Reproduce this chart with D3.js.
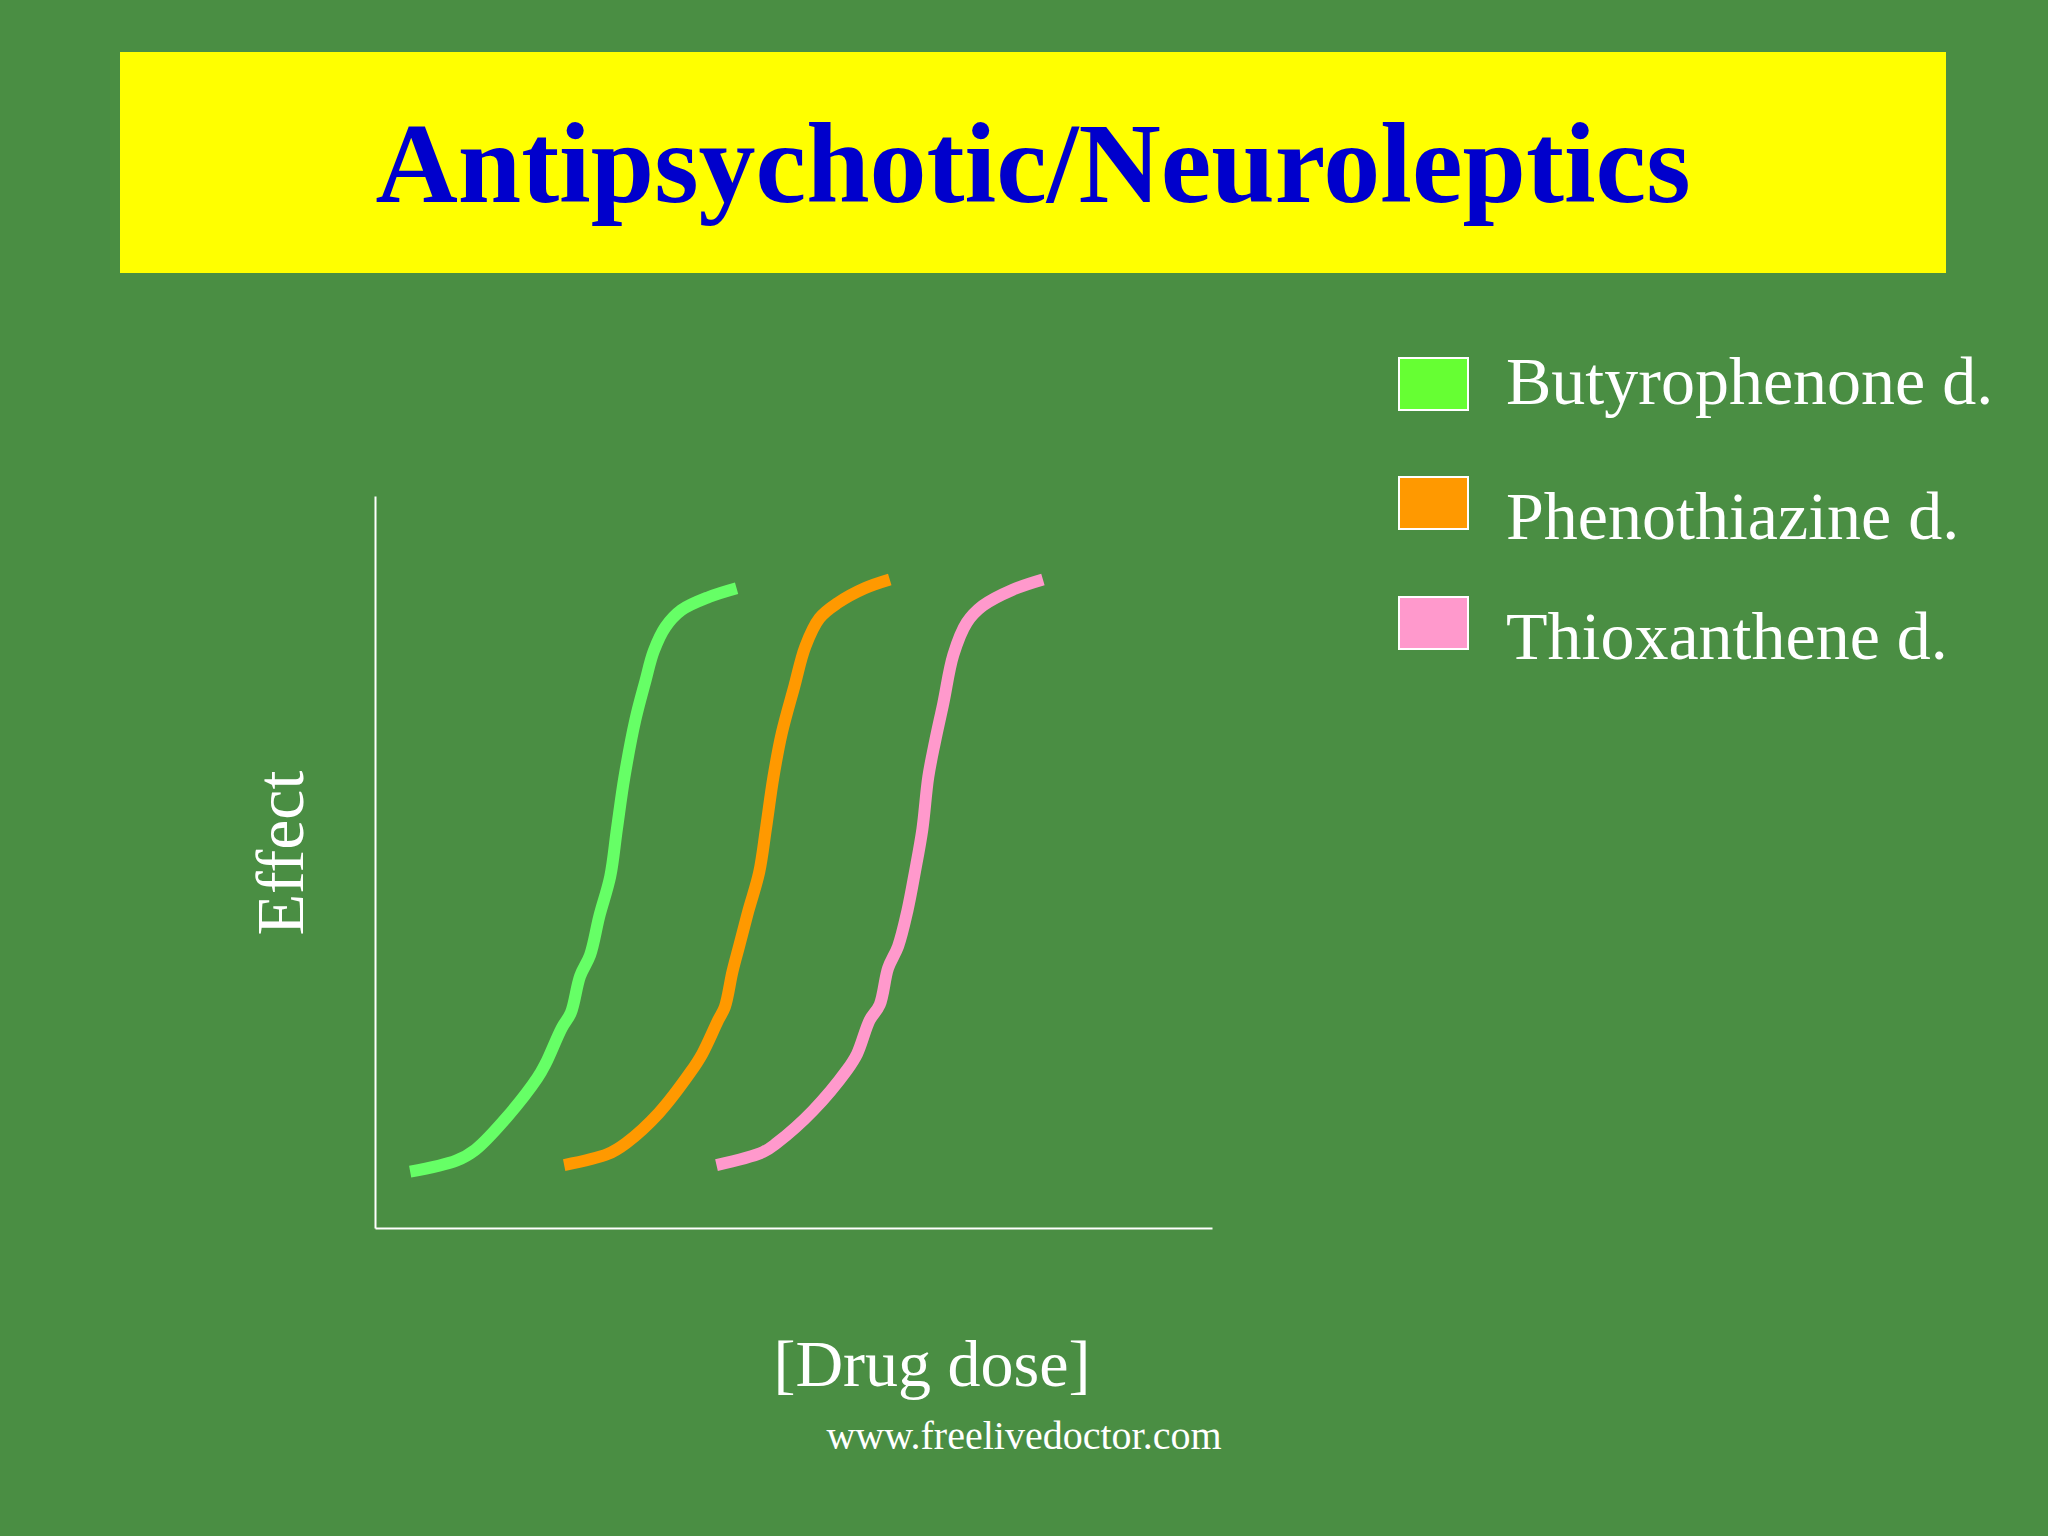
<!DOCTYPE html>
<html>
<head>
<meta charset="utf-8">
<script src="https://cdn.jsdelivr.net/npm/d3@7"></script>
<style>
  body { margin: 0; background: #4a8e43; }
  svg { display: block; }
</style>
</head>
<body>
<div id="chart"></div>
<script>
////////////////////////////////////////////////////////////////////////////////
// Data (dose and effect on a 0-100 scale).
var series_names = ['Butyrophenone d.', 'Phenothiazine d.', 'Thioxanthene d.'];
var legend_colors = ['#66ff33', '#ff9900', '#ff99cc'];
var line_colors = ['#66ff66', '#ff9900', '#ff99cc'];

var butyrophenone = [
	[4.2, 7.7], [9.7, 9.2], [12.0, 10.7], [15.8, 15.2], [19.4, 20.5], [20.4, 22.5],
	[22.3, 27.3], [23.4, 29.4], [24.5, 34.4], [25.7, 37.3], [26.8, 42.6], [28.1, 48.0],
	[28.9, 54.5], [29.8, 61.6], [31.1, 69.4], [32.3, 74.7], [33.3, 78.8], [34.7, 82.1],
	[36.6, 84.4], [39.9, 86.2], [43.2, 87.4]
];
var phenothiazine = [
	[22.6, 8.6], [27.8, 10.1], [30.0, 11.6], [33.9, 15.7], [37.7, 21.3], [39.1, 23.8],
	[41.0, 28.4], [41.8, 30.2], [42.7, 35.0], [43.5, 38.5], [44.6, 43.3], [45.9, 48.6],
	[46.7, 54.5], [47.6, 61.6], [48.6, 67.6], [50.1, 74.0], [51.4, 79.4], [53.1, 83.3],
	[55.3, 85.4], [58.5, 87.4], [61.5, 88.6]
];
var thioxanthene = [
	[40.8, 8.6], [46.4, 10.4], [48.0, 11.6], [52.3, 16.0], [56.4, 21.6], [57.6, 23.8],
	[59.1, 28.4], [60.3, 30.5], [61.3, 35.5], [62.5, 38.5], [63.6, 43.3], [64.5, 48.6],
	[65.4, 54.5], [66.1, 61.6], [66.9, 66.4], [67.9, 71.7], [69.1, 78.3], [70.7, 82.7],
	[72.6, 85.0], [76.2, 87.2], [79.8, 88.6]
];
var all_series = [butyrophenone, phenothiazine, thioxanthene];

var title_text = 'Antipsychotic/Neuroleptics';
var x_label = '[Drug dose]';
var y_label = 'Effect';
var footer = 'www.freelivedoctor.com';

////////////////////////////////////////////////////////////////////////////////
var W = 2048, H = 1536;
var serif = '"Liberation Serif", "Times New Roman", serif';

var svg = d3.select('#chart').append('svg')
	.attr('width', W)
	.attr('height', H);

svg.append('rect')
	.attr('width', W).attr('height', H)
	.attr('fill', '#4a8e43');

// Title banner
svg.append('rect')
	.attr('x', 120).attr('y', 52)
	.attr('width', 1826).attr('height', 221)
	.attr('fill', '#ffff00');

svg.append('text')
	.attr('x', 1033).attr('y', 202)
	.attr('text-anchor', 'middle')
	.style('font-family', serif)
	.style('font-weight', 'bold')
	.style('font-size', '114px')
	.attr('fill', '#0000cc')
	.text(title_text);

////////////////////////////////////////////////////////////////////////////////
// Plot area
var xx = d3.scaleLinear().domain([0, 100]).range([375, 1212]);
var yy = d3.scaleLinear().domain([0, 100]).range([1228, 496]);

var xAxis = svg.append('g')
	.attr('transform', 'translate(0,' + yy(0) + ')')
	.call(d3.axisBottom(xx).tickValues([]).tickSizeOuter(0));
var yAxis = svg.append('g')
	.attr('transform', 'translate(' + xx(0) + ',0)')
	.call(d3.axisLeft(yy).tickValues([]).tickSizeOuter(0));
svg.selectAll('.domain')
	.attr('stroke', '#ffffff')
	.attr('stroke-width', 2);

var line = d3.line()
	.x(function(d) { return xx(d[0]); })
	.y(function(d) { return yy(d[1]); })
	.curve(d3.curveCatmullRom.alpha(0.5));

svg.selectAll('path.curve')
	.data(all_series)
	.enter()
	.append('path')
	.attr('class', 'curve')
	.attr('d', line)
	.attr('fill', 'none')
	.attr('stroke', function(d, i) { return line_colors[i]; })
	.attr('stroke-width', 12)
	.attr('stroke-linejoin', 'round')
	.attr('stroke-linecap', 'butt');

// Axis labels
svg.append('text')
	.attr('transform', 'translate(303,853) rotate(-90)')
	.attr('text-anchor', 'middle')
	.style('font-family', serif)
	.style('font-size', '68px')
	.attr('fill', '#ffffff')
	.text(y_label);

svg.append('text')
	.attr('x', 932).attr('y', 1386)
	.attr('text-anchor', 'middle')
	.style('font-family', serif)
	.style('font-size', '66px')
	.attr('fill', '#ffffff')
	.text(x_label);

svg.append('text')
	.attr('x', 1024).attr('y', 1449)
	.attr('text-anchor', 'middle')
	.style('font-family', serif)
	.style('font-size', '40px')
	.attr('fill', '#ffffff')
	.text(footer);

////////////////////////////////////////////////////////////////////////////////
// Legend
var legend_box_y = [358, 477, 597];
var legend_text_y = [404, 539, 659];

var legend = svg.append('g').attr('class', 'legend');
series_names.forEach(function(name, i) {
	legend.append('rect')
		.attr('x', 1399).attr('y', legend_box_y[i])
		.attr('width', 69).attr('height', 52)
		.attr('fill', legend_colors[i])
		.attr('stroke', '#ffffff')
		.attr('stroke-width', 2);
	legend.append('text')
		.attr('x', 1506).attr('y', legend_text_y[i])
		.style('font-family', serif)
		.style('font-size', '68px')
		.attr('fill', '#ffffff')
		.text(name);
});
</script>
</body>
</html>
